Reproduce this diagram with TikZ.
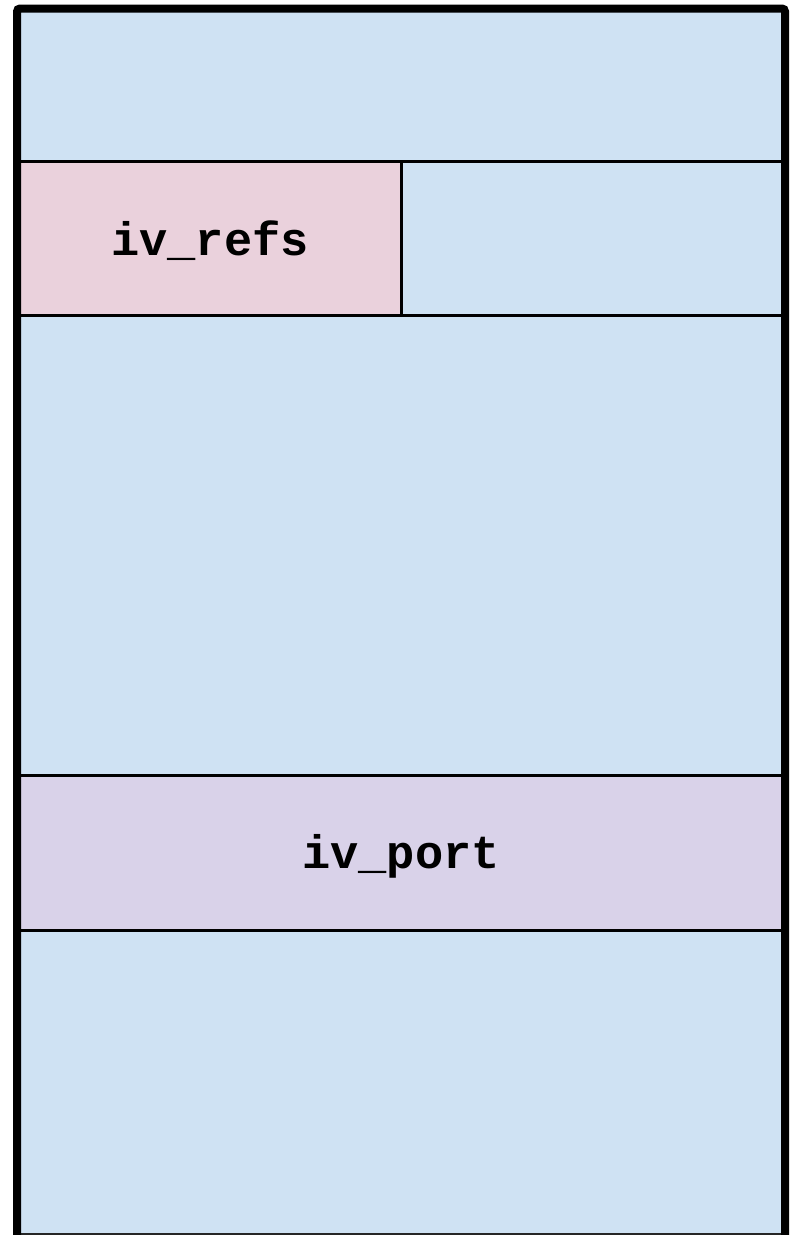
\documentclass[tikz,border=0pt]{standalone}
\usepackage{fontspec}
\setmonofont{Liberation Mono}
\definecolor{cellblue}{HTML}{CFE2F3}
\definecolor{cellpink}{HTML}{EAD1DC}
\definecolor{cellpurple}{HTML}{D9D2E9}
\begin{document}
\begin{tikzpicture}[x=1pt,y=-1pt,
  divider/.style={draw=black, line width=3pt},
  frame/.style={draw=black, line width=8pt, rounded corners=3pt},
  lbl/.style={font=\ttfamily\bfseries\fontsize{47}{47}\selectfont, inner sep=0pt, anchor=base}]
\useasboundingbox (0,0) rectangle (792,1235);
\clip (0,0) rectangle (792,1235);
% fills
\path[fill=cellblue] (17,8.5) rectangle (785,1240);
\path[fill=cellpink] (17,161.5) rectangle (401,315);
\path[fill=cellpurple] (17,775.5) rectangle (785,930);
% dividers
\coordinate (d1l) at (17,161.5); \coordinate (d1r) at (785,161.5);
\coordinate (d2l) at (17,315);   \coordinate (d2r) at (785,315);
\coordinate (d3l) at (17,775.5); \coordinate (d3r) at (785,775.5);
\coordinate (d4l) at (17,930);   \coordinate (d4r) at (785,930);
\coordinate (vt) at (401,161.5); \coordinate (vb) at (401,315);
\coordinate (bl) at (17,1233.5); \coordinate (br) at (785,1233.5);
\draw[divider] (d1l) -- (d1r);
\draw[divider] (d2l) -- (d2r);
\draw[divider] (d3l) -- (d3r);
\draw[divider] (d4l) -- (d4r);
\draw[divider] (vt) -- (vb);
\draw[draw=black!85, line width=2pt] (bl) -- (br);
% labels
\node[lbl] (refs) at (210,255) {iv\_refs};
\node[lbl] (port) at (401,868) {iv\_port};
% outer frame
\coordinate (fbl) at (17,1300); \coordinate (ftl) at (17,8.5);
\coordinate (ftr) at (785,8.5); \coordinate (fbr) at (785,1300);
\draw[frame] (fbl) -- (ftl) -- (ftr) -- (fbr);
\end{tikzpicture}
\end{document}
